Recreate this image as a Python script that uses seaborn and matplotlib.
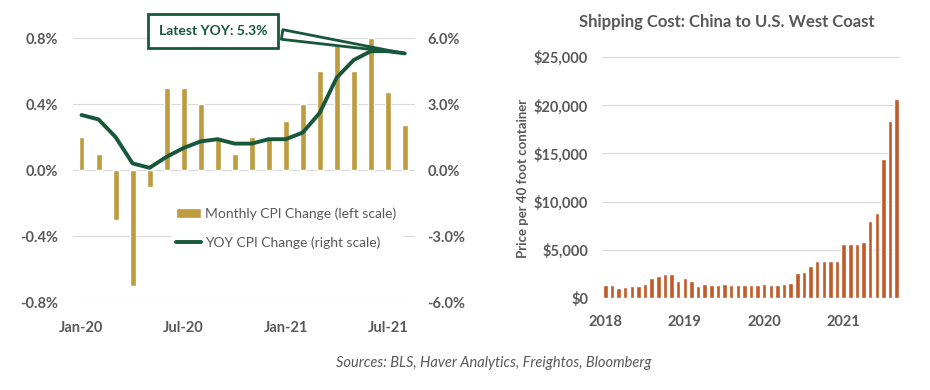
import matplotlib
matplotlib.use("Agg")
import matplotlib.pyplot as plt
import seaborn as sns
import pandas as pd
import numpy as np

# ---- data ----
cpi_months = ["Jan-20", "Feb-20", "Mar-20", "Apr-20", "May-20", "Jun-20", "Jul-20", "Aug-20",
              "Sep-20", "Oct-20", "Nov-20", "Dec-20", "Jan-21", "Feb-21", "Mar-21", "Apr-21",
              "May-21", "Jun-21", "Jul-21", "Aug-21"]
monthly_cpi = [0.2, 0.1, -0.3, -0.7, -0.1, 0.5, 0.5, 0.4, 0.2, 0.1, 0.2, 0.2, 0.3, 0.4, 0.6, 0.8,
               0.6, 0.8, 0.47, 0.27]
yoy_cpi = [2.5, 2.3, 1.5, 0.3, 0.1, 0.6, 1.0, 1.3, 1.4, 1.2, 1.2, 1.4, 1.4, 1.7, 2.6, 4.2,
           5.0, 5.4, 5.4, 5.3]
cpi_tick_labels = ["Jan-20", "Jul-20", "Jan-21", "Jul-21"]

ship_years = ["2018", "2019", "2020", "2021"]
ship_cost = [1400, 1400, 1000, 1150, 1250, 1250, 1500, 2050, 2250, 2450, 2450, 1750,
             2050, 1750, 1200, 1500, 1350, 1350, 1500, 1350, 1350, 1350, 1400, 1350,
             1500, 1350, 1400, 1500, 1600, 2550, 2650, 3300, 3800, 3800, 3800, 3800,
             5550, 5550, 5550, 5850, 7950, 8800, 14400, 18400, 20600]

GOLD = "#BE9B3F"
GREEN = "#17573A"
ORANGE = "#C05A28"
GRAY = "#595959"
GRID = "#D9D9D9"

sns.set_style("white")
plt.rcParams["font.family"] = ["Lato", "DejaVu Sans"]

fig = plt.figure(figsize=(9.3, 3.9), dpi=100)

# ---- left chart ----
ax = fig.add_axes([73 / 930, 1 - 302 / 390, (415 - 73) / 930, (302 - 38) / 390])
df_cpi = pd.DataFrame({"idx": np.arange(len(cpi_months)), "month": cpi_months,
                       "monthly": monthly_cpi, "yoy": yoy_cpi})
sns.barplot(data=df_cpi, x="idx", y="monthly", color=GOLD, width=0.35, ax=ax,
            native_scale=True, saturation=1, label="Monthly CPI Change (left scale)")
if ax.get_legend() is not None:
    ax.get_legend().remove()
ax.set_xlim(-0.5, 19.6)
ax.set_ylim(-0.8, 0.8)
lt = [-0.8, -0.4, 0.0, 0.4, 0.8]
ax.set_yticks(lt)
ax.set_yticklabels([f"{v:.1f}%" for v in lt], fontweight="bold")
ax.set_xticks([cpi_months.index(m) for m in cpi_tick_labels])
ax.set_xticklabels(cpi_tick_labels, fontweight="bold")
ax.set_xlabel("")
ax.set_ylabel("")
ax.grid(axis="y", color=GRID, linewidth=0.8)
ax.set_axisbelow(True)
for s in ax.spines.values():
    s.set_visible(False)
ax.tick_params(axis="y", length=0, labelsize=10.5, labelcolor=GRAY, pad=11)
ax.tick_params(axis="x", length=0, labelsize=10.5, labelcolor=GRAY, pad=14)

ax2 = ax.twinx()
sns.lineplot(data=df_cpi, x="idx", y="yoy", color=GREEN, linewidth=2.8, ax=ax2,
             label="YOY CPI Change (right scale)", legend=False)
ax2.set_ylim(-6, 6)
rt = [-6, -3, 0, 3, 6]
ax2.set_yticks(rt)
ax2.set_yticklabels([f"{v:.1f}%" for v in rt], fontweight="bold")
ax2.set_ylabel("")
ax2.set_xlabel("")
for s in ax2.spines.values():
    s.set_visible(False)
ax2.tick_params(length=0, labelsize=10.5, labelcolor=GRAY, pad=9)

h1, l1 = ax.get_legend_handles_labels()
h2, l2 = ax2.get_legend_handles_labels()
leg = ax2.legend(h1 + h2, l1 + l2, loc="center left", bbox_to_anchor=(0.265, 0.28),
                 frameon=True, facecolor="white", edgecolor="white", framealpha=1,
                 fontsize=10, labelcolor=GRAY, handlelength=1.8, labelspacing=1.15,
                 handletextpad=0.3, borderpad=0.4)

last = len(yoy_cpi) - 1
ax2.annotate(f"Latest YOY: {yoy_cpi[last]:.1f}%", xy=(last, yoy_cpi[last]),
             xytext=(213 / 930, 1 - 31 / 390), textcoords="figure fraction",
             ha="center", va="center", fontsize=10, fontweight="bold", color=GREEN,
             bbox=dict(boxstyle="square,pad=0.8", fc="white", ec=GREEN, lw=2),
             arrowprops=dict(arrowstyle="wedge,tail_width=0.7,shrink_factor=0.5",
                             fc="white", ec=GREEN, lw=2, relpos=(1.0, 0.4)))

# ---- right chart ----
bx = fig.add_axes([602 / 930, 1 - 298 / 390, (900 - 602) / 930, (298 - 57) / 390])
df_ship = pd.DataFrame({"idx": np.arange(len(ship_cost)), "cost": ship_cost})
sns.barplot(data=df_ship, x="idx", y="cost", color=ORANGE, width=0.68, ax=bx,
            native_scale=True, saturation=1)
bx.set_xlim(-0.5, 44.5)
bx.set_ylim(0, 25000)
yt = list(range(0, 25001, 5000))
bx.set_yticks(yt)
bx.set_yticklabels([f"${v:,}" for v in yt], fontweight="bold")
bx.set_xticks([0, 12, 24, 36])
bx.set_xticklabels(ship_years, fontweight="bold")
bx.set_xlabel("")
bx.set_ylabel("")
bx.grid(axis="y", color=GRID, linewidth=0.8)
bx.set_axisbelow(True)
for s in bx.spines.values():
    s.set_visible(False)
bx.tick_params(axis="y", length=0, labelsize=10.5, labelcolor=GRAY, pad=10)
bx.tick_params(axis="x", length=0, labelsize=10.5, labelcolor=GRAY, pad=12)

fig.text(727 / 930, 1 - 22 / 390, "Shipping Cost: China to U.S. West Coast",
         ha="center", va="center", fontsize=12, fontweight="bold", color=GRAY)
fig.text(523 / 930, 1 - 178 / 390, "Price per 40 foot container", rotation=90,
         ha="center", va="center", fontsize=9.5, fontweight="bold", color=GRAY)

fig.text(494 / 930, 1 - 363 / 390, "Sources: BLS, Haver Analytics, Freightos, Bloomberg",
         ha="center", va="center", fontsize=10.5, style="italic", color=GRAY)

fig.savefig("out.png", dpi=100, facecolor="white")
